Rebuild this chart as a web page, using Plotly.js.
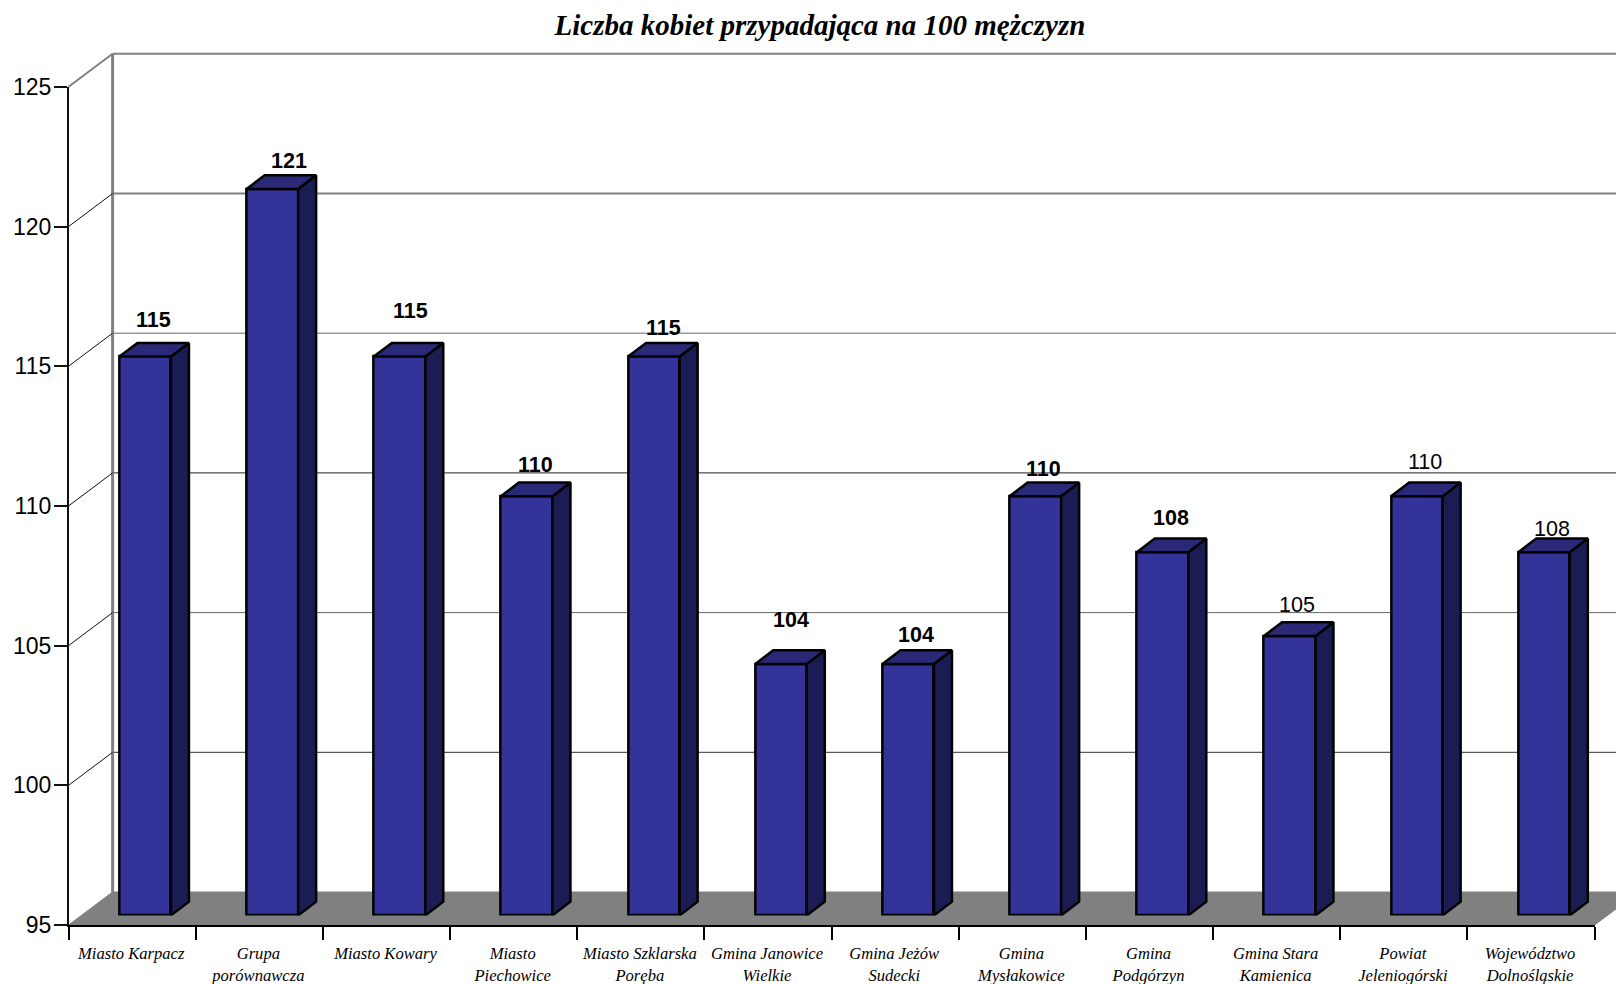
<!DOCTYPE html>
<html><head><meta charset="utf-8">
<script src="https://cdn.plot.ly/plotly-3.0.1.min.js"></script>
<style>html,body{margin:0;padding:0;background:#fff;overflow:hidden}</style>
</head><body><div id="chart" style="width:1616px;height:984px"></div>
<script>
const categories = ["Miasto Karpacz","Grupa<br>porównawcza","Miasto Kowary","Miasto<br>Piechowice","Miasto Szklarska<br>Poręba","Gmina Janowice<br>Wielkie","Gmina Jeżów<br>Sudecki","Gmina<br>Mysłakowice","Gmina<br>Podgórzyn","Gmina Stara<br>Kamienica","Powiat<br>Jeleniogórski","Województwo<br>Dolnośląskie"];
const values = [115,121,115,110,115,104,104,110,108,105,110,108];
const boldLabels = [true,true,true,true,true,true,true,true,true,false,false,false];
const labelShiftX = [8,16.6,10.7,8.5,9.8,10.1,7.5,8.3,8.1,7,8.3,8];
const labelShiftY = [36.5,27.6,46,31,29,44,28.5,27,34,30.6,34,23];
const yTicks = [95,100,105,110,115,120,125];
const gridValues = [100,105,110,115,120,125];
const gridColors = ["#333333","#666666","#222222","#666666","#808080","#808080"];
const gridWidths = [1,1,1,1,2,2];

const W=1616,H=984,unitX=127.17,unitY=27.94;
const fx=68.6, fy=925;          // front plane origin
const plane={dx:13.0,dy:9.6};   // bar plane offset from the front plane
const wall={dx:44,dy:33};       // back wall offset
const depth={dx:18,dy:13.7};    // bar depth
const barW=0.405;
const domX=(a,b)=>[a/W,Math.min(b,W)/W];
const domY=(top,bot)=>[(H-bot)/H,(H-top)/H];
const top125=fy-30*unitY;

// whole-page axes in front-plane units: x,y; front plane: x2,y2; bar plane: x3,y3
const ddx=wall.dx/unitX, ddy=wall.dy/unitY;
const pageMinX=-fx/unitX, pageMaxX=(W-fx)/unitX;
const pageMinY=95-(H-fy)/unitY, pageMaxY=95+fy/unitY;
const layout={
  width:W,height:H,margin:{l:0,r:0,t:0,b:0},paper_bgcolor:"#fff",plot_bgcolor:"rgba(0,0,0,0)",showlegend:false,
  title:{text:"<b><i>Liczba kobiet przypadająca na 100 mężczyzn</i></b>",x:820/W,xanchor:"center",y:1-24.5/H,yanchor:"middle",
    font:{family:"Liberation Serif",size:29,color:"#000"}},
  xaxis:{domain:[0,1],range:[pageMinX,pageMaxX],visible:false,fixedrange:true},
  yaxis:{domain:[0,1],range:[pageMinY,pageMaxY],anchor:"x",visible:false,fixedrange:true},
  xaxis2:{domain:domX(fx,fx+12*unitX),range:[0,12],anchor:"y2",tickmode:"array",tickvals:categories.map((c,i)=>i+0.5),ticktext:categories,
    ticks:"",ticklabelstandoff:12,ticklabelshift:-1,tickangle:0,showline:true,linecolor:"#000",linewidth:2,zeroline:false,showgrid:false,
    tickfont:{family:"Liberation Serif",size:16.6,color:"#000",style:"italic"},
    minor:{tickmode:"array",tickvals:categories.map((c,i)=>i).concat(categories.length),ticks:"outside",ticklen:13,tickcolor:"#000",tickwidth:1.5,showgrid:false},fixedrange:true},
  yaxis2:{domain:domY(top125,fy),range:[95,125],anchor:"x2",tickmode:"array",tickvals:yTicks,ticktext:yTicks.map(String),
    ticks:"outside",ticklen:13,tickwidth:1.5,tickcolor:"#111",showline:true,linecolor:"#111",linewidth:1.5,zeroline:false,showgrid:false,
    tickfont:{family:"Liberation Sans",size:23,color:"#000"},ticklabelstandoff:-2,fixedrange:true},
  xaxis3:{domain:domX(fx+plane.dx,fx+plane.dx+12*unitX),range:[0,12],anchor:"y3",visible:false,fixedrange:true},
  yaxis3:{domain:domY(top125-plane.dy,fy-plane.dy),range:[95,125],anchor:"x3",visible:false,fixedrange:true},
  bargap:0,
  annotations:values.map((v,i)=>({xref:"x3",yref:"y3",x:i+0.5,y:v,text:boldLabels[i]?"<b>"+v+"</b>":String(v),showarrow:false,
    xanchor:"center",yanchor:"middle",xshift:labelShiftX[i],yshift:labelShiftY[i],font:{family:"Liberation Sans",size:21.5,color:"#000"}}))
};

const traces=[];
const pageLine=(x,y,color,width)=>({type:"scatter",mode:"lines",xaxis:"x",yaxis:"y",x,y,line:{color,width},hoverinfo:"skip"});
// back wall grid lines and left edge
gridValues.forEach((v,i)=>traces.push(pageLine([ddx,pageMaxX],[v+ddy,v+ddy],gridColors[i],gridWidths[i])));
traces.push(pageLine([ddx,ddx],[95+ddy,125+ddy],"#808080",3));
// floor
traces.push({type:"scatter",mode:"lines",xaxis:"x",yaxis:"y",x:[0,ddx,12+ddx,12,0],y:[95,95+ddy,95+ddy,95,95],fill:"toself",fillcolor:"#808080",
  line:{color:"#808080",width:1},hoverinfo:"skip"});
// connectors from front ticks to wall
gridValues.forEach((v,i)=>traces.push(pageLine([0,ddx],[v,v+ddy],v===125?"#808080":"#111",v===125?2:1)));
// front plane carrier (keeps the visible axes drawn)
traces.push({type:"scatter",mode:"markers",xaxis:"x2",yaxis:"y2",x:[0],y:[95],marker:{size:1,opacity:0},hoverinfo:"skip"});
// bars
const cx=values.map((v,i)=>i+0.5);
const bdx=depth.dx/unitX, bdy=depth.dy/unitY;
const edge={color:"#000",width:2.5};
traces.push({type:"bar",xaxis:"x3",yaxis:"y3",x:cx,y:values.map(v=>v-95),base:95,width:barW,marker:{color:"#333399",line:edge},cliponaxis:false,
  customdata:values,hovertemplate:"%{customdata}<extra></extra>"});
values.forEach((v,i)=>{
  const l=cx[i]-barW/2,r=cx[i]+barW/2;
  traces.push({type:"scatter",mode:"lines",xaxis:"x3",yaxis:"y3",x:[r,r+bdx,r+bdx,r,r],y:[95,95+bdy,v+bdy,v,95],fill:"toself",fillcolor:"#1C1C55",line:edge,hoverinfo:"skip",cliponaxis:false});
  traces.push({type:"scatter",mode:"lines",xaxis:"x3",yaxis:"y3",x:[l,l+bdx,r+bdx,r,l],y:[v,v+bdy,v+bdy,v,v],fill:"toself",fillcolor:"#292977",line:edge,hoverinfo:"skip",cliponaxis:false});
});
Plotly.newPlot("chart",traces,layout,{displayModeBar:false,responsive:false});
</script></body></html>
